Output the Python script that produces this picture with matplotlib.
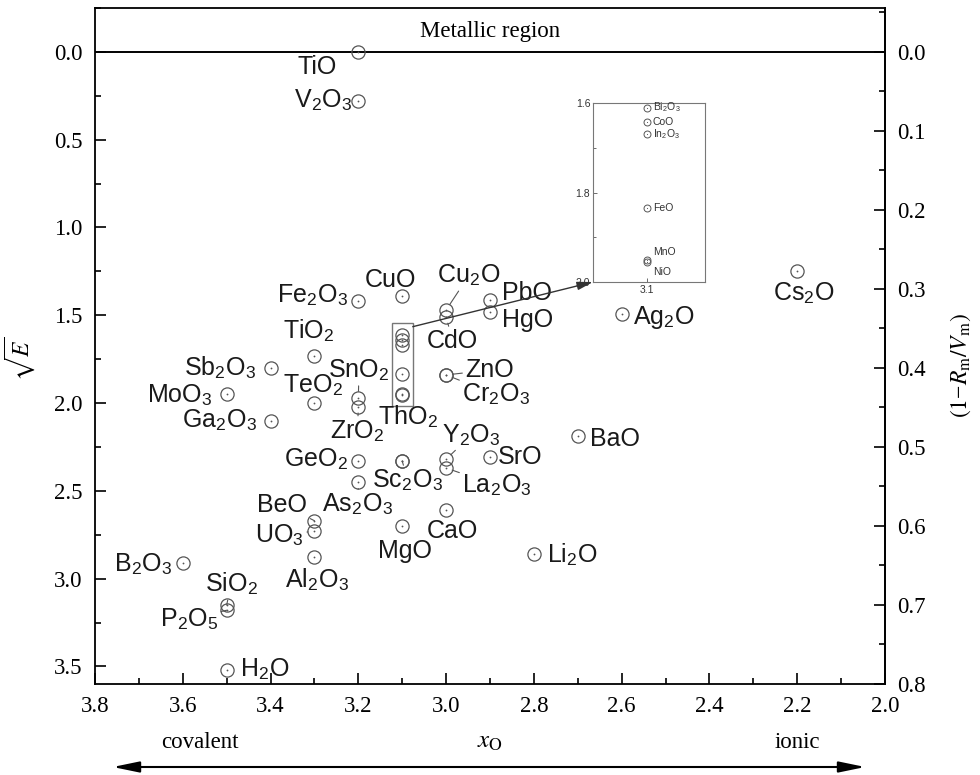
import re
import matplotlib
matplotlib.use('Agg')
import matplotlib.pyplot as plt
from matplotlib.patches import Rectangle, ConnectionPatch, FancyArrowPatch
from matplotlib.ticker import MultipleLocator, FixedLocator

plt.rcParams['mathtext.fontset'] = 'stix'
plt.rcParams['font.family'] = ['Liberation Serif', 'DejaVu Serif']

# ---------------- data ----------------
compounds = ['TiO', 'V2O3', 'Fe2O3', 'CuO', 'Cu2O', 'CdO', 'PbO', 'HgO', 'Ag2O', 'Cs2O',
             'TiO2', 'Sb2O3', 'MoO3', 'TeO2', 'SnO2', 'ZrO2', 'Ga2O3', 'ZnO', 'Cr2O3',
             'ThO2', 'Y2O3', 'La2O3', 'SrO', 'BaO', 'GeO2', 'Sc2O3', 'As2O3', 'CaO',
             'MgO', 'Li2O', 'BeO', 'UO3', 'Al2O3', 'B2O3', 'SiO2', 'P2O5', 'H2O']
x_O = [3.2, 3.2, 3.2, 3.1, 3.0, 3.0, 2.9, 2.9, 2.6, 2.2,
       3.3, 3.4, 3.5, 3.3, 3.2, 3.2, 3.4, 3.0, 3.0,
       3.1, 3.0, 3.0, 2.9, 2.7, 3.2, 3.1, 3.2, 3.0,
       3.1, 2.8, 3.3, 3.3, 3.3, 3.6, 3.5, 3.5, 3.5]
sqrtE = [0.0, 0.28, 1.42, 1.39, 1.47, 1.51, 1.415, 1.48, 1.49, 1.25,
         1.73, 1.80, 1.95, 2.00, 1.97, 2.02, 2.10, 1.84, 1.84,
         2.33, 2.32, 2.37, 2.31, 2.19, 2.33, 2.33, 2.45, 2.61,
         2.70, 2.86, 2.67, 2.73, 2.875, 2.91, 3.15, 3.18, 3.52]

inset_compounds = ['Bi2O3', 'CoO', 'In2O3', 'FeO', 'MnO', 'NiO']
inset_x = [3.1, 3.1, 3.1, 3.1, 3.1, 3.1]
inset_sqrtE = [1.611, 1.643, 1.670, 1.834, 1.950, 1.955]

x_ticks = [3.8, 3.6, 3.4, 3.2, 3.0, 2.8, 2.6, 2.4, 2.2, 2.0]
left_ticks = [0.0, 0.5, 1.0, 1.5, 2.0, 2.5, 3.0, 3.5]
right_ticks = [0.0, 0.1, 0.2, 0.3, 0.4, 0.5, 0.6, 0.7, 0.8]
ratio = 4.5  # sqrt(E) = 4.5 * (1 - Rm/Vm)

# ---------------- label layout (offsets in pixels, ha, leader) ----------------
label_pos = {
    'TiO': (-21, -22, 'right', False), 'V2O3': (-6, -7, 'right', False),
    'Fe2O3': (-10, -1, 'right', False), 'CuO': (-12, 9, 'center', False),
    'Cu2O': (-9, 27, 'left', True), 'CdO': (-19, -31, 'left', True),
    'PbO': (12, 0, 'left', False), 'HgO': (12, -15, 'left', False),
    'Ag2O': (11, -10, 'left', False), 'Cs2O': (7, -29, 'center', False),
    'TiO2': (-31, 17, 'left', False), 'Sb2O3': (-14, -8, 'right', False),
    'MoO3': (-14, -8, 'right', False), 'TeO2': (-31, 10, 'left', False),
    'SnO2': (-30, 20, 'left', True), 'ZrO2': (-28, -32, 'left', True),
    'Ga2O3': (-13, -7, 'right', False), 'ZnO': (19, -2, 'left', True),
    'Cr2O3': (16, -27, 'left', True), 'ThO2': (-24, 36, 'left', False),
    'Y2O3': (-4, 17, 'left', True), 'La2O3': (16, -25, 'left', True),
    'SrO': (8, -7, 'left', False), 'BaO': (12, -10, 'left', False),
    'GeO2': (-10, -6, 'right', False), 'Sc2O3': (-30, -27, 'left', True),
    'As2O3': (-36, -30, 'left', True), 'CaO': (-19, -28, 'left', False),
    'MgO': (-24, -32, 'left', False), 'Li2O': (13, -9, 'left', False),
    'BeO': (-57, 9, 'left', True), 'UO3': (-59, -11, 'left', True),
    'Al2O3': (-29, -31, 'left', False), 'B2O3': (-10, -9, 'right', False),
    'SiO2': (-22, 13, 'left', True), 'P2O5': (-67, -16, 'left', True),
    'H2O': (13, -7, 'left', False),
}
inset_pos = {
    'Bi2O3': (6, -3, False), 'CoO': (6, -3, False), 'In2O3': (6, -3, False),
    'FeO': (6, -3, False), 'MnO': (6, 5, True), 'NiO': (6, -13, False),
}


def chem(name):
    return re.sub(r'(\d+)', r'$_{\\mathregular{\1}}$', name)


W, H = 980, 775
fig = plt.figure(figsize=(W / 100, H / 100), dpi=100)
L, R, T, B = 95, 885, 8, 684
ax = fig.add_axes([L / W, 1 - B / H, (R - L) / W, (B - T) / H])

ax.set_xlim(3.8, 2.0)
ax.set_ylim(3.6, -0.25)

mcol = '#555555'
ax.plot(x_O, sqrtE, linestyle='none', marker='o', ms=9.5, mfc='none', mec=mcol, mew=0.9, zorder=3)
ax.plot(x_O, sqrtE, linestyle='none', marker='o', ms=1.3, mfc=mcol, mec=mcol, mew=0, zorder=3)
ax.plot(inset_x, inset_sqrtE, linestyle='none', marker='o', ms=9.5, mfc='none', mec=mcol, mew=0.9, zorder=3)
ax.plot(inset_x, inset_sqrtE, linestyle='none', marker='o', ms=1.3, mfc=mcol, mec=mcol, mew=0, zorder=3)

for name, xv, yv in zip(compounds, x_O, sqrtE):
    dx, dy, ha, lead = label_pos[name]
    kw = {}
    if lead:
        kw['arrowprops'] = dict(arrowstyle='-', color='#555555', lw=0.8, shrinkA=0, shrinkB=4.6)
    ax.annotate(chem(name), xy=(xv, yv), xytext=(dx, dy), textcoords='offset pixels',
                ha=ha, va='baseline', fontsize=18, family=['Liberation Sans', 'DejaVu Sans'],
                color='#1a1a1a', zorder=4, **kw)

# metallic region line
ax.axhline(0.0, color='black', lw=1.4, zorder=2)
ax.text(0.5, 1 - (37 - T) / (B - T), 'Metallic region', transform=ax.transAxes,
        ha='center', va='baseline', fontsize=16.5)

# ticks
ax.xaxis.set_major_locator(FixedLocator(x_ticks))
ax.xaxis.set_minor_locator(MultipleLocator(0.1))
ax.yaxis.set_major_locator(FixedLocator(left_ticks))
ax.yaxis.set_minor_locator(MultipleLocator(0.25))
ax.set_xticklabels([f'{v:.1f}' for v in x_ticks])
ax.set_yticklabels([f'{v:.1f}' for v in left_ticks])
ax.tick_params(which='both', direction='in', top=False, right=False, labelsize=16.5, width=1.2)
ax.tick_params(which='major', length=8, pad=9)
ax.tick_params(which='minor', length=4)
for s in ax.spines.values():
    s.set_linewidth(1.3)

secax = ax.secondary_yaxis('right', functions=(lambda v: v / ratio, lambda r: r * ratio))
secax.yaxis.set_major_locator(FixedLocator(right_ticks))
secax.yaxis.set_minor_locator(MultipleLocator(0.05))
secax.set_yticklabels([f'{v:.1f}' for v in right_ticks])
secax.tick_params(which='both', direction='in', labelsize=16.5, width=1.2)
secax.tick_params(which='major', length=8, pad=9)
secax.tick_params(which='minor', length=4)
secax.spines['right'].set_linewidth(1.3)

# axis labels
ax.set_ylabel(r'$\sqrt{E}$', fontsize=17)
ax.yaxis.set_label_coords((37 - L) / (R - L), (B - 359) / (B - T))
ax.set_xlabel(r'$x_\mathrm{O}$', fontsize=18)
ax.xaxis.set_label_coords(0.5, -(731 - B) / (B - T))
fig.text(961 / W, 1 - 365 / H, r'$(1\mathregular{-}R_\mathrm{m}/V_\mathrm{m})$', rotation=90,
         ha='center', va='center', fontsize=17)

fig.text(200 / W, 1 - 748 / H, 'covalent', ha='center', va='baseline', fontsize=16.5)
fig.text(797 / W, 1 - 748 / H, 'ionic', ha='center', va='baseline', fontsize=16.5)
arr = FancyArrowPatch((110 / W, 1 - 767 / H), (868 / W, 1 - 767 / H), transform=fig.transFigure,
                      arrowstyle='<|-|>,head_length=1.6,head_width=0.33', mutation_scale=10,
                      color='black', lw=1.5)
fig.add_artist(arr)

# zoom box around the crowded points
bx0, bx1 = 3.1 - 0.024, 3.1 + 0.024
by0, by1 = min(inset_sqrtE) - 0.066, max(inset_sqrtE) + 0.062
ax.add_patch(Rectangle((bx0, by0), bx1 - bx0, by1 - by0, fill=False, ec='#777777', lw=1.0, zorder=2))

# inset
axin = fig.add_axes([593 / W, 1 - 282 / H, 112 / W, 179 / H])
axin.set_xlim(3.148, 3.048)
axin.set_ylim(2.0, 1.6)
axin.plot(inset_x, inset_sqrtE, linestyle='none', marker='o', ms=5, mfc='none', mec=mcol, mew=0.7)
axin.plot(inset_x, inset_sqrtE, linestyle='none', marker='o', ms=0.8, mfc=mcol, mec=mcol, mew=0)
for name, xv, yv in zip(inset_compounds, inset_x, inset_sqrtE):
    dx, dy, lead = inset_pos[name]
    kw = {}
    if lead:
        kw['arrowprops'] = dict(arrowstyle='-', color='#666666', lw=0.6, shrinkA=0, shrinkB=2.5)
    axin.annotate(chem(name), xy=(xv, yv), xytext=(dx, dy), textcoords='offset pixels',
                  ha='left', va='baseline', fontsize=7.5, family=['Liberation Sans', 'DejaVu Sans'],
                  color='#333333', **kw)
axin.xaxis.set_major_locator(FixedLocator([3.1]))
axin.yaxis.set_major_locator(FixedLocator([1.6, 1.8, 2.0]))
axin.yaxis.set_minor_locator(FixedLocator([1.7, 1.9]))
axin.set_xticklabels(['3.1'])
axin.set_yticklabels(['1.6', '1.8', '2.0'])
axin.tick_params(which='both', direction='in', labelsize=7.5, colors='#555555', pad=2,
                 labelcolor='#333333', width=0.6)
axin.tick_params(which='major', length=3)
axin.tick_params(which='minor', length=2)
for lab in axin.get_xticklabels() + axin.get_yticklabels():
    lab.set_family(['Liberation Sans', 'DejaVu Sans'])
for s in axin.spines.values():
    s.set_color('#777777')
    s.set_linewidth(0.8)

con = ConnectionPatch(xyA=(bx0, by0 + 0.02), coordsA=ax.transData, xyB=(0, 0), coordsB=axin.transAxes,
                      arrowstyle='-|>,head_length=0.95,head_width=0.25', mutation_scale=10,
                      color='#333333', lw=1.0, shrinkA=0, shrinkB=0)
fig.add_artist(con)

fig.savefig('out.png', dpi=100)
